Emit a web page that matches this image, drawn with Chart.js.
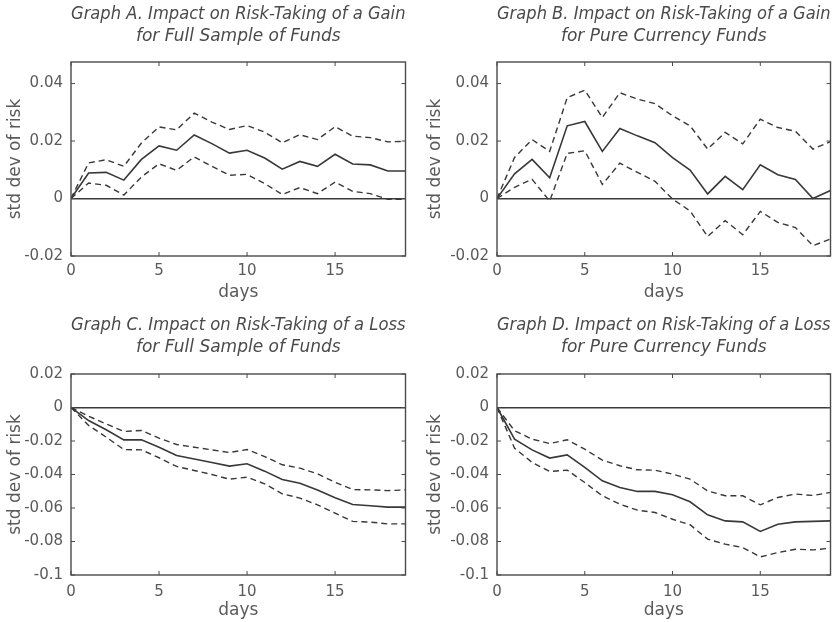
<!DOCTYPE html>
<html><head><meta charset="utf-8">
<script src="https://cdn.jsdelivr.net/npm/chart.js@4/dist/chart.umd.min.js"></script>
<style>
html,body{margin:0;padding:0;background:#fff;}
#wrap{position:relative;width:840px;height:622px;overflow:hidden;}
.panel{position:absolute;width:420px;height:311px;}
canvas{display:block;}
</style></head><body>
<div id="wrap">
<div class="panel" style="left:0;top:0"><canvas id="cA" width="420" height="311"></canvas></div>
<div class="panel" style="left:420px;top:0"><canvas id="cB" width="420" height="311"></canvas></div>
<div class="panel" style="left:0;top:311px"><canvas id="cC" width="420" height="311"></canvas></div>
<div class="panel" style="left:420px;top:311px"><canvas id="cD" width="420" height="311"></canvas></div>
</div>
<script>
const days = [0,1,2,3,4,5,6,7,8,9,10,11,12,13,14,15,16,17,18,19];

const titleA = ["Graph A. Impact on Risk-Taking of a Gain", "for Full Sample of Funds"];
const titleB = ["Graph B. Impact on Risk-Taking of a Gain", "for Pure Currency Funds"];
const titleC = ["Graph C. Impact on Risk-Taking of a Loss", "for Full Sample of Funds"];
const titleD = ["Graph D. Impact on Risk-Taking of a Loss", "for Pure Currency Funds"];

const gainFullMean  = [0, 0.0089, 0.0091, 0.0064, 0.0136, 0.0183, 0.0168, 0.0221, 0.0191, 0.0158, 0.0168, 0.0141, 0.0102, 0.0129, 0.0112, 0.0154, 0.0120, 0.0117, 0.0096, 0.0096];
const gainFullUpper = [0, 0.0124, 0.0135, 0.0112, 0.0193, 0.0249, 0.0239, 0.0297, 0.0266, 0.0240, 0.0254, 0.0231, 0.0194, 0.0222, 0.0205, 0.0250, 0.0217, 0.0212, 0.0197, 0.0199];
const gainFullLower = [0, 0.0054, 0.0046, 0.0012, 0.0075, 0.0121, 0.0098, 0.0145, 0.0112, 0.0081, 0.0084, 0.0052, 0.0014, 0.0038, 0.0017, 0.0057, 0.0025, 0.0017, -0.0003, -0.0003];

const gainPureMean  = [0, 0.0086, 0.0136, 0.0072, 0.0253, 0.0268, 0.0164, 0.0244, 0.0218, 0.0194, 0.0142, 0.0099, 0.0016, 0.0077, 0.0031, 0.0117, 0.0083, 0.0066, 0.0000, 0.0028];
const gainPureUpper = [0, 0.0143, 0.0205, 0.0164, 0.0351, 0.0377, 0.0282, 0.0368, 0.0346, 0.0330, 0.0288, 0.0253, 0.0172, 0.0230, 0.0190, 0.0276, 0.0247, 0.0234, 0.0172, 0.0198];
const gainPureLower = [0, 0.0039, 0.0067, -0.0009, 0.0157, 0.0166, 0.0049, 0.0123, 0.0091, 0.0060, -0.0002, -0.0043, -0.0132, -0.0077, -0.0126, -0.0045, -0.0083, -0.0101, -0.0164, -0.0141];

const lossFullMean  = [0, -0.0078, -0.0133, -0.0193, -0.0193, -0.0237, -0.0287, -0.0308, -0.0328, -0.0350, -0.0336, -0.0380, -0.0430, -0.0452, -0.0492, -0.0539, -0.0579, -0.0587, -0.0595, -0.0595];
const lossFullUpper = [0, -0.0052, -0.0098, -0.0143, -0.0137, -0.0183, -0.0221, -0.0237, -0.0253, -0.0269, -0.0251, -0.0293, -0.0342, -0.0362, -0.0396, -0.0446, -0.0490, -0.0492, -0.0496, -0.0492];
const lossFullLower = [0, -0.0107, -0.0177, -0.0251, -0.0253, -0.0300, -0.0352, -0.0376, -0.0400, -0.0428, -0.0416, -0.0456, -0.0515, -0.0541, -0.0581, -0.0631, -0.0680, -0.0684, -0.0695, -0.0695];

const lossPureMean  = [0, -0.0189, -0.0253, -0.0302, -0.0283, -0.0358, -0.0438, -0.0478, -0.0501, -0.0501, -0.0521, -0.0563, -0.0641, -0.0677, -0.0683, -0.0740, -0.0697, -0.0683, -0.0680, -0.0677];
const lossPureUpper = [0, -0.0139, -0.0189, -0.0215, -0.0193, -0.0249, -0.0314, -0.0348, -0.0372, -0.0374, -0.0398, -0.0428, -0.0498, -0.0527, -0.0527, -0.0581, -0.0537, -0.0517, -0.0525, -0.0507];
const lossPureLower = [0, -0.0243, -0.0328, -0.0382, -0.0374, -0.0448, -0.0527, -0.0577, -0.0613, -0.0627, -0.0667, -0.0700, -0.0786, -0.0816, -0.0836, -0.0892, -0.0866, -0.0846, -0.0850, -0.0840];

const xTickStep = 5;
const yTickStep = 0.02;
const yAxisLabel = "std dev of risk";
const xAxisLabel = "days";

const FONT = "'DejaVu Sans', 'Liberation Sans', sans-serif";
const TEXT = '#5a5a5a';
const LINE = '#383838';

const boxPlugin = {
  id: 'matlabBox',
  afterDatasetsDraw(chart) {
    const {ctx, chartArea: a, scales: {x, y}} = chart;
    ctx.save();
    ctx.strokeStyle = '#4a4a4a';
    ctx.lineWidth = 1.4;
    ctx.strokeRect(a.left, a.top, a.right - a.left, a.bottom - a.top);
    const L = 4;
    ctx.beginPath();
    x.ticks.forEach(t => {
      const px = x.getPixelForValue(t.value);
      ctx.moveTo(px, a.bottom); ctx.lineTo(px, a.bottom - L);
      ctx.moveTo(px, a.top); ctx.lineTo(px, a.top + L);
    });
    y.ticks.forEach(t => {
      const py = y.getPixelForValue(t.value);
      ctx.moveTo(a.left, py); ctx.lineTo(a.left + L, py);
      ctx.moveTo(a.right, py); ctx.lineTo(a.right - L, py);
    });
    ctx.lineWidth = 1;
    ctx.stroke();
    ctx.restore();
  }
};

function series(arr) { return days.map((d, i) => ({x: d, y: arr[i]})); }
function fmt(v) { const r = Math.round(v * 10000) / 10000; return String(r === 0 ? 0 : r); }

function panel(id, title, mean, upper, lower, yMin, yMax, L) {
  new Chart(document.getElementById(id), {
    type: 'line',
    data: {
      datasets: [
        {data: series(upper), borderColor: LINE, borderWidth: 1.4, borderDash: [6, 4], pointRadius: 0, fill: false, tension: 0},
        {data: series(mean),  borderColor: LINE, borderWidth: 1.6, pointRadius: 0, fill: false, tension: 0},
        {data: series(lower), borderColor: LINE, borderWidth: 1.4, borderDash: [6, 4], pointRadius: 0, fill: false, tension: 0}
      ]
    },
    options: {
      responsive: false,
      animation: false,
      devicePixelRatio: 1,
      layout: {padding: {left: 0, right: L.right, top: 0, bottom: 0}},
      plugins: {
        legend: {display: false},
        tooltip: {enabled: false},
        title: {
          display: true, text: title, color: '#4a4a4a', fullSize: false,
          font: {family: FONT, size: 17, style: 'italic', weight: 'normal', lineHeight: 22/17},
          padding: {top: 4, bottom: L.titleBottom}
        }
      },
      scales: {
        x: {
          type: 'linear', min: 0, max: 19,
          afterBuildTicks: s => { s.ticks = s.ticks.filter(t => t.value % xTickStep === 0); },
          afterFit: s => { s.height = L.xH; },
          ticks: {stepSize: xTickStep, color: TEXT, font: {family: FONT, size: 15}, padding: L.xTickPad, maxRotation: 0, callback: v => String(v)},
          grid: {display: false},
          border: {display: false},
          title: {display: true, text: xAxisLabel, color: TEXT, font: {family: FONT, size: 17, lineHeight: 1.2}, padding: {top: 0, bottom: L.xTitleBottom}}
        },
        y: {
          type: 'linear', min: yMin, max: yMax,
          afterBuildTicks: s => { s.ticks = s.ticks.filter(t => Math.abs(t.value / yTickStep - Math.round(t.value / yTickStep)) < 1e-6); },
          afterFit: s => { s.width = L.yW; },
          ticks: {stepSize: yTickStep, color: TEXT, font: {family: FONT, size: 15}, padding: 8, callback: v => fmt(v)},
          grid: {drawTicks: false, lineWidth: 1.5, color: c => (c.tick && Math.abs(c.tick.value) < 1e-9) ? '#3a3a3a' : 'rgba(0,0,0,0)'},
          border: {display: false},
          title: {display: true, text: yAxisLabel, color: TEXT, font: {family: FONT, size: 17, lineHeight: 1.2}, padding: {top: 5, bottom: 0}}
        }
      }
    },
    plugins: [boxPlugin]
  });
}

panel('cA', titleA, gainFullMean, gainFullUpper, gainFullLower, -0.02, 0.0475, {right: 14.5, yW: 71, xH: 55, titleBottom: 14, xTickPad: -2, xTitleBottom: 7.8});
panel('cB', titleB, gainPureMean, gainPureUpper, gainPureLower, -0.02, 0.0475, {right: 9.5, yW: 77, xH: 55, titleBottom: 14, xTickPad: -2, xTitleBottom: 7.8});
panel('cC', titleC, lossFullMean, lossFullUpper, lossFullLower, -0.1, 0.02, {right: 14.5, yW: 71, xH: 47, titleBottom: 15, xTickPad: 0, xTitleBottom: 0.8});
panel('cD', titleD, lossPureMean, lossPureUpper, lossPureLower, -0.1, 0.02, {right: 9.5, yW: 77, xH: 47, titleBottom: 15, xTickPad: 0, xTitleBottom: 0.8});
</script>
</body></html>
